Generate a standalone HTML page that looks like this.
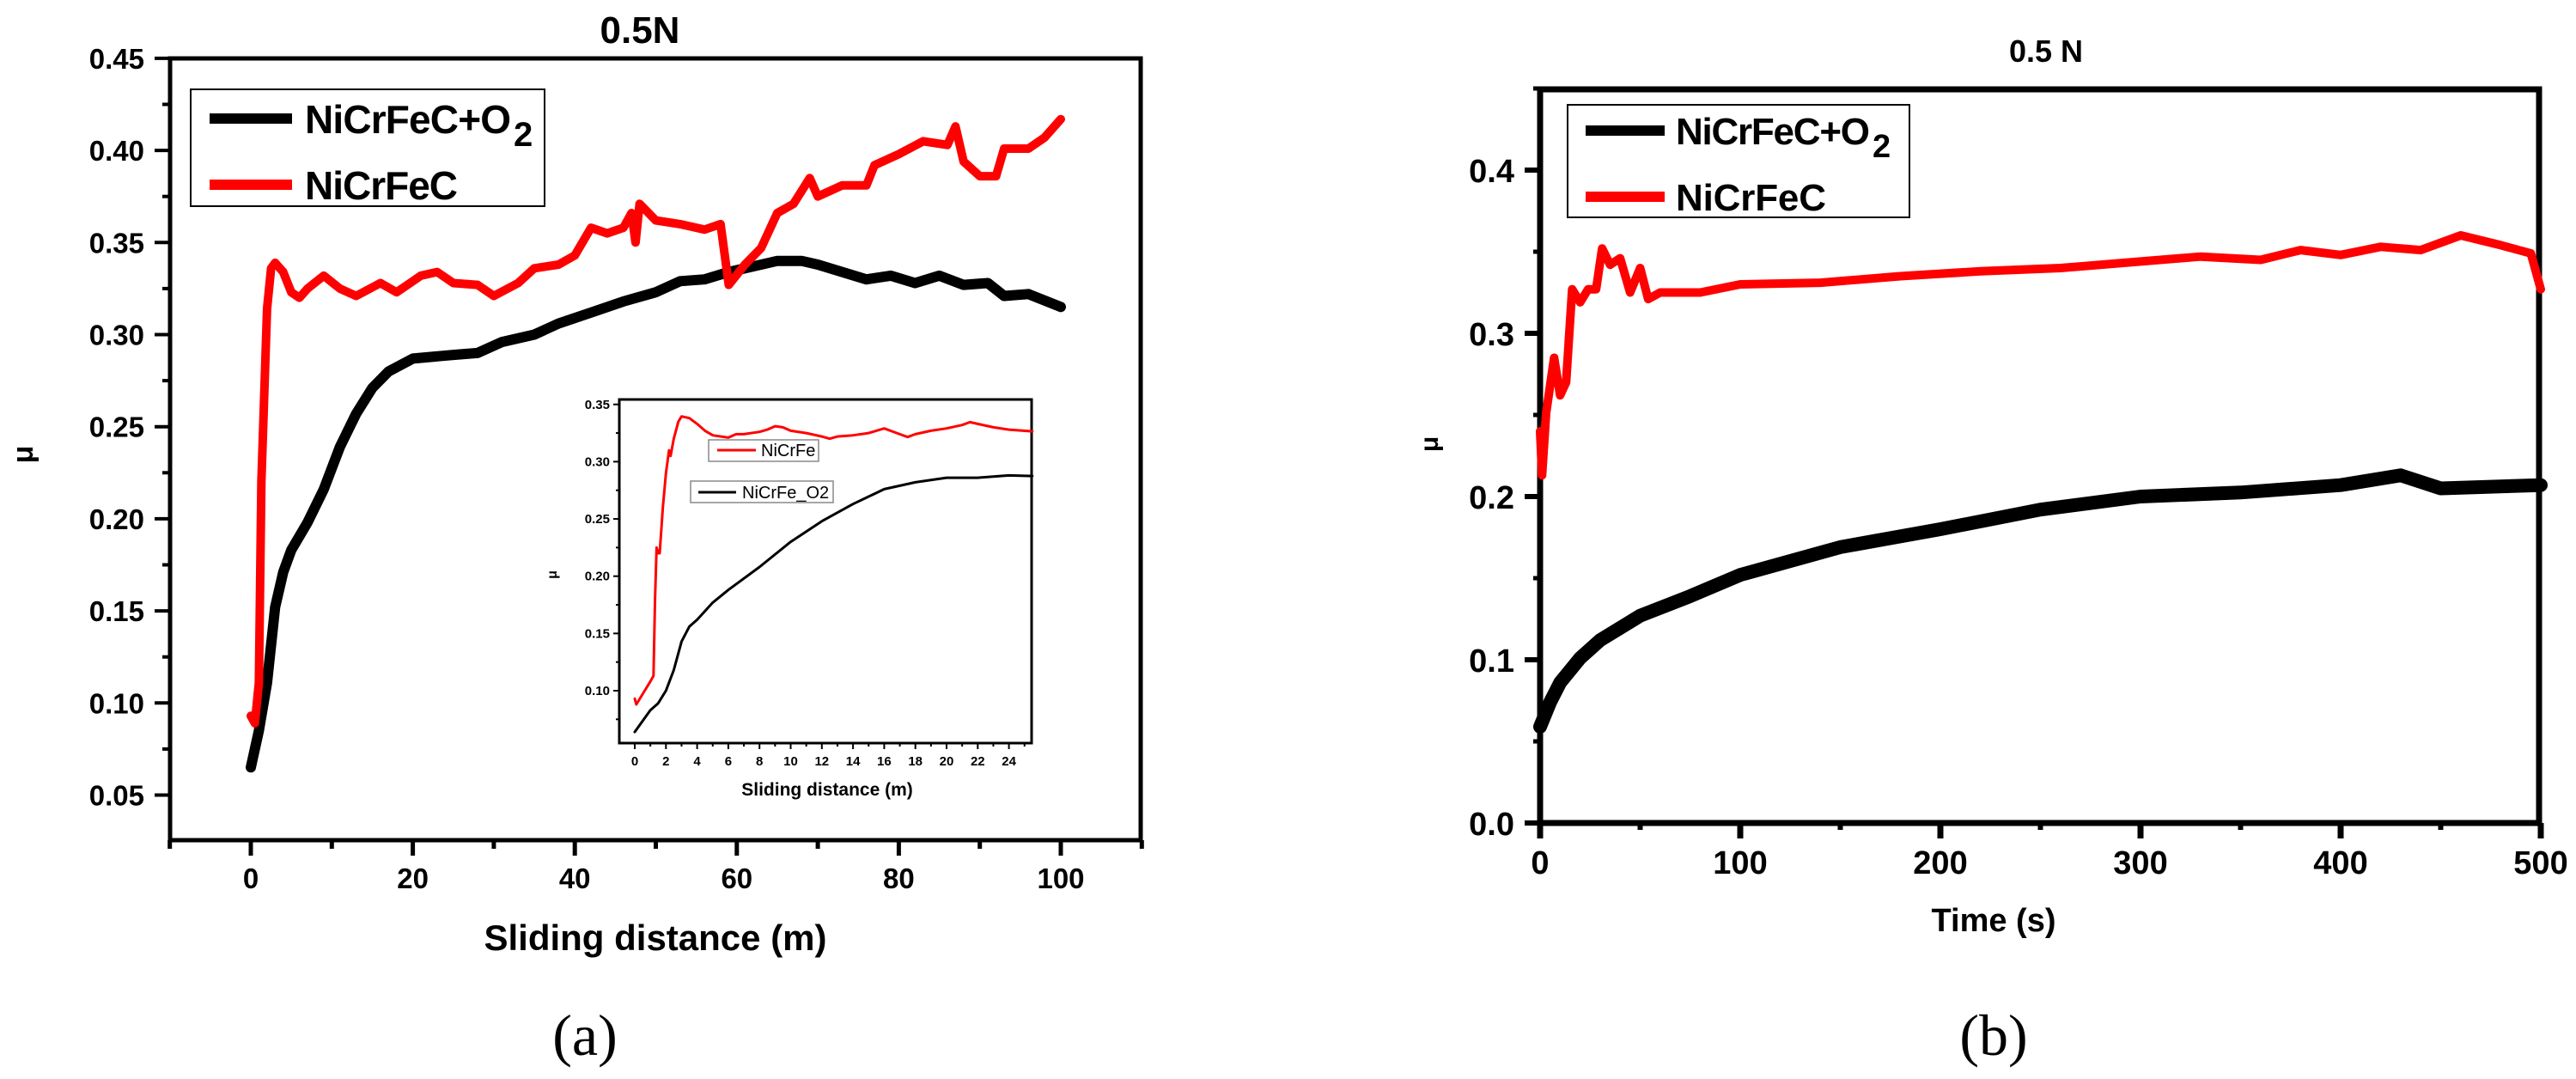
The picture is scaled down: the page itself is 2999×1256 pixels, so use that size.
<!DOCTYPE html>
<html><head><meta charset="utf-8"><style>
html,body{margin:0;padding:0;background:#fff;}
svg{display:block;font-family:"Liberation Sans",Arial,sans-serif;}
</style></head><body>
<svg id="fig" width="2999" height="1256" viewBox="0 0 2999 1256" xmlns="http://www.w3.org/2000/svg">
<g id="pa">
  <text x="745" y="50" font-size="44" font-weight="bold" text-anchor="middle">0.5N</text>
  <rect x="198" y="68" width="1130" height="910" fill="none" stroke="#000" stroke-width="5"/>
  <g id="pa-ticks"></g>
  <g id="pa-lines"></g>
  <text x="763" y="1106" font-size="42" font-weight="bold" text-anchor="middle">Sliding distance (m)</text>
  <text x="0" y="0" font-size="34" font-weight="bold" text-anchor="middle" transform="translate(38,529) rotate(-90)">μ</text>
  <g>
    <rect x="222" y="104" width="412" height="136" fill="#fff" stroke="#000" stroke-width="2"/>
    <line x1="244" y1="138" x2="340" y2="138" stroke="#000" stroke-width="12"/>
    <text x="355" y="155" font-size="46" font-weight="bold" textLength="240">NiCrFeC+O</text>
    <text x="598" y="170" font-size="40" font-weight="bold">2</text>
    <line x1="244" y1="215" x2="340" y2="215" stroke="#f00" stroke-width="12"/>
    <text x="355" y="232" font-size="46" font-weight="bold" textLength="178">NiCrFeC</text>
  </g>
  <g id="inset">
    <rect x="721" y="465" width="480" height="400" fill="#fff" stroke="#000" stroke-width="3"/>
    <g id="in-ticks"></g>
    <g id="in-lines"></g>
    <text x="963" y="926" font-size="21" font-weight="bold" text-anchor="middle">Sliding distance (m)</text>
    <text x="0" y="0" font-size="16" font-weight="bold" text-anchor="middle" transform="translate(648,669) rotate(-90)">μ</text>
    <g>
      <rect x="825" y="512" width="128" height="25" fill="#fff" stroke="#888" stroke-width="1.5"/>
      <line x1="835" y1="524" x2="880" y2="524" stroke="#f00" stroke-width="3"/>
      <text x="886" y="531" font-size="20">NiCrFe</text>
    </g>
    <g>
      <rect x="804" y="560" width="166" height="25" fill="#fff" stroke="#888" stroke-width="1.5"/>
      <line x1="813" y1="573" x2="857" y2="573" stroke="#000" stroke-width="3"/>
      <text x="864" y="580" font-size="20">NiCrFe_O2</text>
    </g>
  </g>
  <text x="681" y="1228" font-size="68" font-family="'Liberation Serif',serif" text-anchor="middle">(a)</text>
</g>
<g id="pb">
  <text x="2382" y="72" font-size="36" font-weight="bold" text-anchor="middle">0.5 N</text>
  <rect x="1793" y="104" width="1163" height="854" fill="none" stroke="#000" stroke-width="7"/>
  <g id="pb-ticks"></g>
  <g id="pb-lines"></g>
  <text x="2321" y="1084" font-size="38" font-weight="bold" text-anchor="middle">Time (s)</text>
  <text x="0" y="0" font-size="30" font-weight="bold" text-anchor="middle" transform="translate(1674,517) rotate(-90)">μ</text>
  <g>
    <rect x="1825" y="122" width="398" height="131" fill="#fff" stroke="#000" stroke-width="2"/>
    <line x1="1846" y1="152" x2="1938" y2="152" stroke="#000" stroke-width="12"/>
    <text x="1951" y="168" font-size="44" font-weight="bold" textLength="226">NiCrFeC+O</text>
    <text x="2180" y="183" font-size="38" font-weight="bold">2</text>
    <line x1="1846" y1="229" x2="1938" y2="229" stroke="#f00" stroke-width="12"/>
    <text x="1951" y="245" font-size="44" font-weight="bold" textLength="175">NiCrFeC</text>
  </g>
  <text x="2321" y="1228" font-size="68" font-family="'Liberation Serif',serif" text-anchor="middle">(b)</text>
</g>
</svg>
<script>
// Panel (a) data
const aRedX = [0,0.5,1,1.3,2,2.5,3,4,5,6,7,9,11,13,16,18,21,23,25,28,30,33,35,38,40,42,44,46,47,47.5,48,50,53,56,58,59,61,63,65,67,69,70,73,76,77,80,83,86,87,88,90,92,93,96,98,100];
const aRedY = [0.093,0.089,0.111,0.22,0.314,0.336,0.339,0.334,0.323,0.320,0.325,0.332,0.325,0.321,0.328,0.323,0.332,0.334,0.328,0.327,0.321,0.328,0.336,0.338,0.343,0.358,0.355,0.358,0.366,0.350,0.371,0.362,0.360,0.357,0.360,0.327,0.338,0.347,0.366,0.371,0.385,0.375,0.381,0.381,0.392,0.398,0.405,0.403,0.413,0.394,0.386,0.386,0.401,0.401,0.407,0.417];
const aBlkX = [0,1,2,3,4,5,7,9,11,13,15,17,20,25,28,31,35,38,42,46,50,53,56,59,62,65,68,70,73,76,79,82,85,88,91,93,96,100];
const aBlkY = [0.065,0.085,0.111,0.152,0.171,0.183,0.198,0.216,0.239,0.257,0.271,0.280,0.287,0.289,0.290,0.296,0.300,0.306,0.312,0.318,0.323,0.329,0.330,0.334,0.337,0.340,0.340,0.338,0.334,0.330,0.332,0.328,0.332,0.327,0.328,0.321,0.322,0.315];
const aXTicks = [0,20,40,60,80,100];
const aYTicks = ["0.05","0.10","0.15","0.20","0.25","0.30","0.35","0.40","0.45"];
// Inset data
const iRedX = [0,0.1,0.5,1.0,1.2,1.3,1.4,1.5,1.6,1.8,2.0,2.2,2.3,2.5,2.8,3.0,3.5,4,4.5,5,6,6.5,7,8,8.5,9,9.5,10,11,12,12.5,13,14,15,16,17,17.5,18,19,20,21,21.5,23,24,25.5];
const iRedY = [0.093,0.088,0.097,0.108,0.113,0.18,0.225,0.22,0.22,0.26,0.29,0.31,0.305,0.32,0.335,0.3395,0.338,0.333,0.327,0.323,0.321,0.324,0.324,0.326,0.328,0.331,0.330,0.327,0.325,0.322,0.320,0.322,0.323,0.325,0.329,0.324,0.3215,0.324,0.327,0.329,0.332,0.3345,0.330,0.328,0.3265];
const iBlkX = [0,1,1.5,2,2.5,3,3.5,4,5,6,8,10,12,14,16,18,20,22,24,25.5];
const iBlkY = [0.064,0.083,0.089,0.10,0.118,0.143,0.156,0.162,0.177,0.188,0.208,0.230,0.248,0.263,0.276,0.282,0.286,0.286,0.288,0.2875];
const iXTicks = [0,2,4,6,8,10,12,14,16,18,20,22,24];
const iYTicks = ["0.10","0.15","0.20","0.25","0.30","0.35"];
// Panel (b) data
const bRedX = [0,1,3,7,10,13,16,20,24,28,31,35,40,45,50,54,60,80,100,140,180,220,260,300,330,360,380,400,420,440,460,480,495,500];
const bRedY = [0.24,0.213,0.251,0.285,0.262,0.27,0.327,0.319,0.327,0.327,0.352,0.342,0.346,0.325,0.34,0.321,0.325,0.325,0.330,0.331,0.335,0.338,0.340,0.344,0.347,0.345,0.351,0.348,0.353,0.351,0.360,0.354,0.349,0.327];
const bBlkX = [0,5,10,20,30,50,75,100,150,200,250,300,350,400,430,450,500];
const bBlkY = [0.059,0.074,0.086,0.101,0.112,0.127,0.139,0.152,0.169,0.180,0.192,0.200,0.2025,0.207,0.213,0.205,0.207];
const bXTicks = [0,100,200,300,400,500];
const bYTicks = ["0.0","0.1","0.2","0.3","0.4"];

const NS = "http://www.w3.org/2000/svg";
const xa = v => 292 + v * 9.43, ya = v => 925.5 - (v - 0.05) * 2144;
const xi = v => 739 + v * 18.15, yi = v => 804 - (v - 0.10) * 1333;
const xb = v => 1793 + v * 2.33, yb = v => 958 - v * 1900;

function mk(tag, parent) { const e = document.createElementNS(NS, tag); parent.appendChild(e); return e; }
function tickLine(g, x1, y1, x2, y2, w) {
  const l = mk('line', g);
  l.setAttribute('x1', x1); l.setAttribute('y1', y1); l.setAttribute('x2', x2); l.setAttribute('y2', y2);
  l.setAttribute('stroke', '#000'); l.setAttribute('stroke-width', w);
  
  
}
function label(g, x, y, s, size, anchor, w) {
  const t = mk('text', g);
  t.setAttribute('x', x); t.setAttribute('y', y); t.setAttribute('font-size', size);
  t.setAttribute('font-weight', w || 'bold'); t.setAttribute('text-anchor', anchor);
  t.textContent = s;
  
  
}
function series(g, xs, ys, fx, fy, color, w, name) {
  const p = mk('polyline', g);
  p.setAttribute('points', xs.map((x, i) => fx(x).toFixed(1) + ',' + fy(ys[i]).toFixed(1)).join(' '));
  p.setAttribute('fill', 'none'); p.setAttribute('stroke', color); p.setAttribute('stroke-width', w);
  p.setAttribute('stroke-linejoin', 'round'); p.setAttribute('stroke-linecap', 'round');
  
  
}

// Panel a axes
const ta = document.getElementById('pa-ticks');
aYTicks.forEach((s, i) => { const v = +s; tickLine(ta, 180, ya(v), 198, ya(v), 4); label(ta, 168, ya(v) + 12, s, 33, 'end'); if (i < aYTicks.length - 1) tickLine(ta, 189, ya(v + 0.025), 198, ya(v + 0.025), 4); });
aXTicks.forEach(v => { tickLine(ta, xa(v), 978, xa(v), 996, 5); label(ta, xa(v), 1034, String(v), 33, 'middle'); });
[-10,10,30,50,70,90,110].forEach(v => tickLine(ta, xa(v), 978, xa(v), 988, 5));
const la = document.getElementById('pa-lines');
series(la, aBlkX, aBlkY, xa, ya, '#000', 12, 'series-nicrfec-o2');
series(la, aRedX, aRedY, xa, ya, '#f00', 10, 'series-nicrfec');

// Inset axes
const ti = document.getElementById('in-ticks');
iYTicks.forEach(s => { const v = +s; tickLine(ti, 714, yi(v), 721, yi(v), 2); label(ti, 710, yi(v) + 5, s, 15, 'end'); tickLine(ti, 717, yi(v - 0.025), 721, yi(v - 0.025), 2); });
iXTicks.forEach(v => { tickLine(ti, xi(v), 865, xi(v), 872, 2); label(ti, xi(v), 891, String(v), 15, 'middle'); tickLine(ti, xi(v + 1), 865, xi(v + 1), 869, 2); });
const li = document.getElementById('in-lines');
series(li, iBlkX, iBlkY, xi, yi, '#000', 3, 'inset-series-nicrfe-o2');
series(li, iRedX, iRedY, xi, yi, '#f00', 3, 'inset-series-nicrfe');

// Panel b axes
const tb = document.getElementById('pb-ticks');
bYTicks.forEach(s => { const v = +s; tickLine(tb, 1775, yb(v), 1793, yb(v), 6); label(tb, 1763, yb(v) + 14, s, 38, 'end'); tickLine(tb, 1785, yb(v + 0.05), 1793, yb(v + 0.05), 5); });
bXTicks.forEach(v => { tickLine(tb, xb(v), 958, xb(v), 976, 7); label(tb, xb(v), 1017, String(v), 38, 'middle'); });
[50,150,250,350,450].forEach(v => tickLine(tb, xb(v), 958, xb(v), 966, 6));
const lb = document.getElementById('pb-lines');
series(lb, bBlkX, bBlkY, xb, yb, '#000', 16, 'series-b-nicrfec-o2');
series(lb, bRedX, bRedY, xb, yb, '#f00', 10, 'series-b-nicrfec');
</script>
</body></html>
